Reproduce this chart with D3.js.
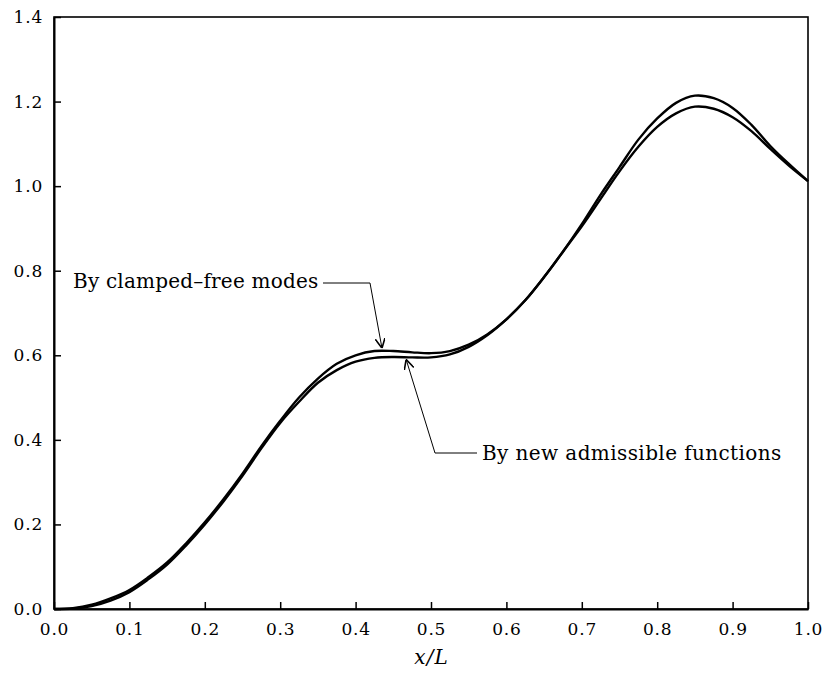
<!DOCTYPE html>
<html lang="en">
<head>
  <meta charset="UTF-8">
  <title>Mode shape comparison</title>
  <script src="https://d3js.org/d3.v7.min.js"></script>
  <style>
    body { margin: 0; background: #fff; }
    text { font-family: "DejaVu Serif", "Liberation Serif", serif; fill: #000; }
  </style>
</head>
<body>
  <svg id="chart" width="824" height="677"></svg>

  <script>
    // x/L positions where the curves were read
    const xPos = [0, 0.025, 0.05, 0.075, 0.1, 0.125, 0.15, 0.175, 0.2, 0.225, 0.25, 0.275, 0.3,
      0.325, 0.35, 0.375, 0.4, 0.425, 0.45, 0.475, 0.5, 0.525, 0.55, 0.575, 0.6, 0.625, 0.65,
      0.675, 0.7, 0.725, 0.75, 0.775, 0.8, 0.825, 0.85, 0.875, 0.9, 0.925, 0.95, 0.975, 1.0];

    // by clamped-free modes
    const clampedFree = [0, 0.002, 0.01, 0.025, 0.045, 0.075, 0.11, 0.155, 0.205, 0.26, 0.32,
      0.385, 0.445, 0.5, 0.545, 0.58, 0.6, 0.61, 0.61, 0.607, 0.605, 0.61, 0.625, 0.65, 0.685,
      0.73, 0.785, 0.845, 0.91, 0.98, 1.045, 1.11, 1.16, 1.197, 1.214, 1.208, 1.185, 1.145,
      1.095, 1.052, 1.012];

    // by new admissible functions
    const newAdmissible = [0, 0.001, 0.007, 0.02, 0.04, 0.07, 0.105, 0.15, 0.2, 0.255, 0.315,
      0.38, 0.44, 0.49, 0.535, 0.565, 0.585, 0.594, 0.596, 0.595, 0.595, 0.602, 0.62, 0.648,
      0.685, 0.73, 0.785, 0.845, 0.905, 0.97, 1.035, 1.093, 1.14, 1.172, 1.188, 1.183, 1.163,
      1.13, 1.088, 1.048, 1.012];

    const xTicks = [0, 0.1, 0.2, 0.3, 0.4, 0.5, 0.6, 0.7, 0.8, 0.9, 1.0];
    const yTicks = [0, 0.2, 0.4, 0.6, 0.8, 1.0, 1.2, 1.4];

    const plotL = 54, plotR = 808, plotT = 17, plotB = 609;

    const svg = d3.select("#chart");

    const x = d3.scaleLinear().domain([0, 1]).range([plotL, plotR]);
    const y = d3.scaleLinear().domain([0, 1.4]).range([plotB, plotT]);

    // frame
    svg.append("rect")
      .attr("x", plotL)
      .attr("y", plotT)
      .attr("width", plotR - plotL)
      .attr("height", plotB - plotT)
      .attr("fill", "none")
      .attr("stroke", "#000")
      .attr("stroke-width", 1.6);

    // axes with inward ticks
    const xAxis = svg.append("g")
      .attr("transform", `translate(0,${plotB})`)
      .call(d3.axisBottom(x).tickValues(xTicks).tickSizeInner(-7).tickSizeOuter(0)
        .tickPadding(14).tickFormat(d3.format(".1f")));

    const yAxis = svg.append("g")
      .attr("transform", `translate(${plotL},0)`)
      .call(d3.axisLeft(y).tickValues(yTicks).tickSizeInner(-7).tickSizeOuter(0)
        .tickPadding(11).tickFormat(d3.format(".1f")));

    [xAxis, yAxis].forEach(ax => {
      ax.select(".domain").attr("stroke", "#000").attr("stroke-width", 2);
      ax.selectAll(".tick line").attr("stroke", "#000").attr("stroke-width", 1.5);
      ax.selectAll(".tick text")
        .attr("font-family", "DejaVu Serif")
        .attr("font-size", "17px")
        .attr("letter-spacing", "0.8px")
        .attr("fill", "#000");
    });

    // axis title
    const title = svg.append("text")
      .attr("x", (plotL + plotR) / 2)
      .attr("y", 664)
      .attr("text-anchor", "middle")
      .attr("font-size", "20px")
      .attr("font-style", "italic");
    title.append("tspan").text("x");
    title.append("tspan").attr("dx", 1).text("/");
    title.append("tspan").attr("dx", 1).text("L");

    // curves
    const line = d3.line()
      .x(d => x(d[0]))
      .y(d => y(d[1]))
      .curve(d3.curveCatmullRom.alpha(0.5));

    [clampedFree, newAdmissible].forEach(series => {
      svg.append("path")
        .datum(xPos.map((v, i) => [v, series[i]]))
        .attr("d", line)
        .attr("fill", "none")
        .attr("stroke", "#000")
        .attr("stroke-width", 2.4);
    });

    // arrow heads
    svg.append("defs").append("marker")
      .attr("id", "arrow")
      .attr("viewBox", "0 0 10 10")
      .attr("refX", 10)
      .attr("refY", 5)
      .attr("markerWidth", 10)
      .attr("markerHeight", 10)
      .attr("markerUnits", "userSpaceOnUse")
      .attr("orient", "auto")
      .append("path")
      .attr("d", "M0,0 L10,5 L0,10")
      .attr("fill", "none")
      .attr("stroke", "#000")
      .attr("stroke-width", 1.6);

    // annotation: clamped-free modes
    svg.append("text")
      .attr("x", 73)
      .attr("y", 288)
      .attr("font-size", "20px")
      .attr("letter-spacing", "0.2px")
      .text("By clamped–free modes");

    svg.append("path")
      .attr("d", `M323,283 L370,283 L${x(0.435)},${y(0.612) - 2}`)
      .attr("fill", "none")
      .attr("stroke", "#000")
      .attr("stroke-width", 1)
      .attr("marker-end", "url(#arrow)");

    // annotation: new admissible functions
    svg.append("text")
      .attr("x", 482)
      .attr("y", 460)
      .attr("font-size", "20px")
      .attr("letter-spacing", "0.4px")
      .text("By new admissible functions");

    svg.append("path")
      .attr("d", `M477,453 L435,453 L${x(0.467)},${y(0.595) + 2}`)
      .attr("fill", "none")
      .attr("stroke", "#000")
      .attr("stroke-width", 1)
      .attr("marker-end", "url(#arrow)");
  </script>
</body>
</html>
